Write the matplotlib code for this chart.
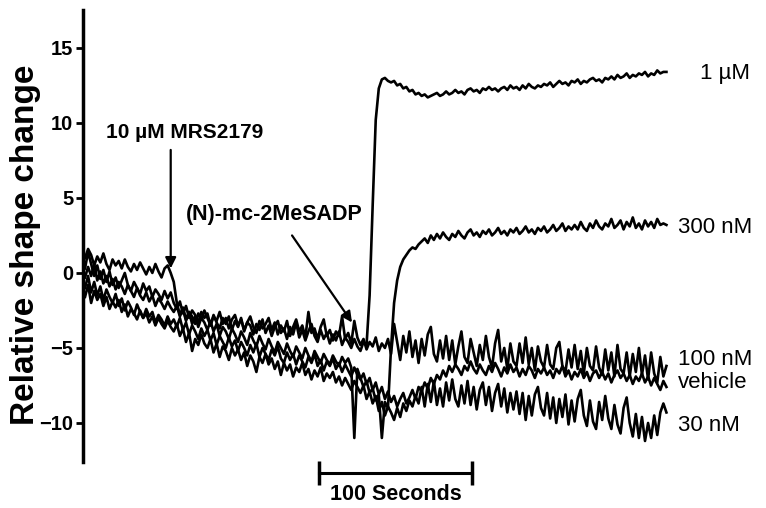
# platelet shape change traces
import numpy as np
import matplotlib
matplotlib.use('Agg')
import matplotlib.pyplot as plt

plt.rcParams['font.family'] = ['Liberation Sans', 'DejaVu Sans']

# sampling step, seconds (each row below = 20 s)
step = 2

one_uM = [-0.3, 0.4, -0.2, 0.6, -0.5, 0.1, -0.7, -0.2, -0.9, -0.4,
          -1.1, -0.6, -0.9, -1.4, -0.8, -1.2, -1.6, -1.0, -1.5, -1.8,
          -1.3, -1.9, -1.5, -2.2, -1.7, -2.0, -2.4, -1.9, -2.3, -2.6,
          -2.2, -2.9, -2.4, -3.2, -2.6, -2.9, -3.4, -2.7, -3.1, -2.5,
          -3.0, -3.5, -2.8, -3.3, -3.7, -3.0, -3.4, -2.9, -3.8, -3.2,
          -3.6, -3.0, -3.9, -3.3, -3.5, -4.1, -3.4, -3.8, -3.1, -4.0,
          -3.5, -4.2, -3.6, -3.2, -4.0, -3.7, -4.4, -3.6, -4.1, -3.3,
          -4.3, -3.8, -4.5, -3.9, -3.4, -4.2, -4.6, -3.8, -4.4, -4.0,
          -4.7, -4.1, -4.5, -3.9, -4.8, -4.3, -4.6, -5.0, -4.4, -4.9,
          -5.2, -4.6, -4.8, -1.5, 4.5, 10.2, 12.3, 12.9, 13.0, 12.8,
          12.7, 12.8, 12.5, 12.6, 12.3, 12.4, 12.1, 12.2, 11.9, 12.0,
          11.8, 11.9, 11.7, 11.8, 11.9, 12.0, 11.8, 11.9, 12.1, 11.9,
          12.0, 12.2, 12.0, 12.1, 11.9, 12.2, 12.3, 12.1, 12.2, 12.0,
          12.3, 12.2, 12.4, 12.2, 12.3, 12.1, 12.3, 12.4, 12.2, 12.5,
          12.3, 12.4, 12.2, 12.5, 12.3, 12.6, 12.4, 12.3, 12.5, 12.4,
          12.6, 12.5, 12.7, 12.4, 12.6, 12.8, 12.6, 12.7, 12.5, 12.8,
          12.7, 12.9, 12.6, 12.8, 12.7, 12.9, 13.0, 12.8, 12.9, 12.7,
          13.0, 12.9, 13.1, 12.9, 13.2, 13.0, 13.1, 13.3, 13.0, 13.2,
          13.1, 13.3, 13.2, 13.4, 13.1, 13.3, 13.2, 13.5, 13.3, 13.4,
          13.4]

nM_300 = [1.0, 1.6, 1.2, 0.5, 1.1, 0.7, 1.3, 0.6, 0.2, 0.9,
          0.5, 0.8, 0.3, 0.9, 0.4, 0.1, 0.6, 0.2, 0.7, 0.3,
          -0.1, 0.4, 0.0, 0.6, 0.1, -0.3, 0.3, 0.5, 0.0, -0.6,
          -2.0, -2.8, -2.3, -3.1, -2.6, -3.4, -2.9, -3.6, -3.0, -3.3,
          -3.8, -3.2, -3.9, -3.4, -4.2, -3.6, -3.9, -4.4, -3.7, -4.1,
          -4.6, -3.9, -4.3, -4.8, -4.0, -4.5, -4.9, -4.2, -4.7, -5.1,
          -4.4, -4.9, -5.3, -4.6, -5.0, -5.4, -4.7, -5.2, -5.6, -4.9,
          -5.3, -5.7, -5.0, -5.5, -5.9, -5.2, -5.6, -6.0, -5.4, -5.8,
          -6.1, -5.5, -5.9, -6.2, -5.6, -6.0, -5.7, -6.3, -11.0, -6.4,
          -7.0, -7.6, -7.2, -8.0, -7.7, -8.5, -8.1, -11.0, -8.6, -9.0,
          -5.0, -2.0, -0.5, 0.4, 0.9, 1.2, 1.5, 1.7, 1.6, 1.9,
          2.1, 2.3, 2.0, 2.5, 2.2, 2.6, 2.3, 2.7, 2.4, 2.2,
          2.6, 2.4, 2.8, 2.5, 2.3, 2.7, 2.9, 2.5, 2.7, 2.4,
          2.8, 2.6, 2.9, 2.5, 2.7, 3.0, 2.6, 2.8, 2.5, 2.9,
          2.7, 3.0, 2.6, 2.8, 3.1, 2.7, 2.9, 2.6, 3.0, 2.8,
          3.1, 2.7, 2.9, 3.2, 2.8, 3.0, 3.3, 2.8, 3.1, 2.9,
          3.2, 2.9, 3.4, 3.0, 2.8, 3.3, 3.0, 3.5, 3.1, 2.9,
          3.3, 3.1, 3.6, 3.0, 3.2, 3.5, 2.9, 3.4, 3.1, 3.7,
          3.0, 3.3, 2.9, 3.5, 3.1, 3.4, 3.0, 3.6, 3.2, 3.3,
          3.2]

nM_100 = [0.3, 1.4, 0.6, -0.2, 0.5, -0.4, 0.2, -0.6, 0.1, -0.8,
          -0.3, -1.0, -0.5, 0.0, -0.8, -1.2, -0.6, -1.0, -1.4, -0.7,
          -1.2, -0.9, -1.6, -1.1, -1.4, -1.8, -1.2, -1.7, -1.3, -2.0,
          -2.4, -1.9, -2.7, -2.2, -3.0, -2.5, -2.8, -3.3, -2.6, -3.0,
          -2.7, -3.5, -2.9, -3.2, -2.6, -3.4, -3.0, -3.7, -3.1, -2.8,
          -3.5, -3.1, -3.8, -3.3, -2.9, -3.6, -4.0, -3.2, -3.7, -3.4,
          -3.0, -3.8, -3.3, -4.1, -3.5, -3.9, -3.2, -4.2, -3.6, -3.1,
          -3.9, -3.5, -4.3, -2.6, -4.0, -3.7, -4.4, -3.6, -3.1, -4.2,
          -3.8, -4.5, -3.9, -4.2, -2.9, -4.4, -4.0, -4.7, -3.2, -4.3,
          -4.8, -4.4, -5.1, -4.6, -4.9, -4.3, -5.2, -4.7, -5.0, -4.4,
          -5.4, -3.4, -4.6, -5.8, -4.2, -5.3, -3.9, -5.6, -4.5, -6.0,
          -4.4, -5.5, -4.1, -3.6, -5.4, -5.9, -4.5, -5.7, -4.2, -5.8,
          -4.5, -6.1, -4.9, -3.9, -5.6, -6.0, -4.4, -5.3, -6.2, -4.8,
          -5.8, -4.2, -5.6, -6.3, -4.7, -3.8, -5.9, -5.0, -6.4, -4.7,
          -5.9, -6.2, -4.7, -6.0, -4.3, -6.1, -5.0, -6.5, -4.9, -5.9,
          -6.3, -4.8, -6.1, -6.4, -5.0, -4.6, -6.2, -6.6, -5.1, -6.3,
          -4.8, -6.4, -5.2, -6.7, -5.0, -6.2, -6.5, -4.9, -6.3, -6.8,
          -5.1, -6.5, -5.3, -6.9, -4.8, -6.4, -6.7, -5.3, -6.9, -5.4,
          -6.6, -5.0, -6.8, -5.5, -7.1, -5.3, -6.7, -7.3, -5.6, -6.9,
          -6.2]

vehicle = [-1.0, -0.2, -1.3, -0.6, -1.5, -0.9, -1.8, -1.1, -1.6, -2.0,
           -1.4, -2.2, -1.7, -2.5, -1.9, -2.3, -2.8, -2.1, -2.6, -3.0,
           -2.4, -2.9, -2.6, -3.3, -2.8, -3.1, -3.5, -2.9, -3.4, -3.1,
           -3.6, -3.0, -3.8, -3.3, -4.1, -3.5, -3.9, -4.4, -3.7, -4.2,
           -3.8, -4.5, -4.0, -4.8, -4.2, -4.6, -5.0, -4.3, -4.9, -4.5,
           -5.2, -4.6, -5.0, -5.5, -4.8, -5.3, -4.7, -5.6, -5.0, -5.4,
           -5.8, -5.1, -5.5, -4.9, -5.7, -6.0, -5.3, -5.8, -5.4, -6.1,
           -5.5, -5.9, -6.3, -5.6, -6.0, -5.4, -6.2, -5.8, -6.5, -5.9,
           -6.2, -5.7, -6.4, -6.0, -6.6, -6.1, -6.5, -6.9, -6.3, -6.8,
           -7.1, -6.7, -7.4, -7.0, -7.8, -7.3, -8.1, -7.6, -8.4, -7.9,
           -8.6, -8.2, -8.9, -8.4, -8.0, -8.7, -8.3, -7.8, -8.4, -7.6,
           -7.9, -7.3, -7.7, -7.0, -7.4, -6.8, -7.1, -6.5, -6.9, -6.2,
           -6.6, -6.1, -6.4, -6.8, -6.2, -6.5, -5.9, -6.4, -6.7, -6.1,
           -6.5, -6.8, -6.2, -6.6, -6.0, -6.4, -6.9, -6.3, -6.7, -6.1,
           -6.6, -6.3, -6.9, -6.4, -6.8, -6.2, -6.5, -7.0, -6.4, -6.7,
           -6.3, -6.8, -6.5, -7.0, -6.4, -6.7, -6.2, -6.9, -6.5, -7.1,
           -6.6, -6.9, -6.4, -7.0, -6.6, -7.2, -6.7, -6.5, -7.0, -6.6,
           -7.1, -6.7, -7.3, -6.8, -6.5, -7.0, -6.7, -7.2, -6.8, -7.4,
           -6.9, -7.2, -6.7, -7.3, -6.9, -7.5, -7.0, -7.4, -7.8, -7.2,
           -7.6]

nM_30 = [-1.6, -0.8, -2.0, -1.2, -1.8, -1.4, -2.2, -1.6, -2.4, -1.9,
         -2.3, -1.8, -2.6, -2.1, -2.9, -2.4, -2.7, -3.1, -2.5, -3.0,
         -2.7, -3.3, -2.9, -3.5, -3.0, -3.4, -3.7, -3.2, -3.6, -3.9,
         -3.4, -4.2, -3.7, -4.6, -4.0, -5.2, -4.4, -4.8, -4.1, -4.7,
         -5.0, -4.4, -5.3, -4.7, -5.6, -4.9, -5.2, -5.8, -5.0, -5.5,
         -5.1, -5.8, -5.3, -6.2, -5.5, -5.9, -6.6, -5.6, -6.0, -5.4,
         -6.1, -5.7, -6.4, -5.9, -6.8, -6.0, -6.5, -6.1, -6.9, -6.3,
         -6.6, -6.0, -6.8, -6.4, -7.1, -6.5, -6.9, -6.3, -7.2, -6.7,
         -7.0, -6.6, -7.3, -6.9, -7.5, -7.0, -7.4, -7.8, -7.2, -7.6,
         -8.0, -7.5, -8.4, -7.9, -8.7, -8.2, -9.2, -8.6, -9.5, -8.9,
         -9.3, -9.8, -9.0, -9.6, -8.7, -9.2, -8.5, -8.9, -8.2, -8.7,
         -7.6, -8.9, -7.4, -8.6, -7.2, -8.8, -7.7, -8.9, -7.3, -8.5,
         -7.1, -8.4, -8.9, -7.5, -8.7, -7.2, -8.8, -7.6, -9.1, -7.8,
         -7.3, -8.8, -7.6, -9.2, -8.0, -7.4, -8.9, -7.7, -9.3, -8.0,
         -9.1, -7.9, -9.4, -8.0, -9.8, -8.2, -9.5, -8.1, -7.6, -9.0,
         -9.5, -8.0, -9.7, -8.3, -10.0, -8.4, -9.6, -8.1, -10.1, -8.5,
         -9.9, -8.4, -7.8, -9.5, -10.2, -8.5, -9.9, -10.4, -8.6, -9.8,
         -8.2, -9.7, -10.4, -8.8, -10.1, -10.7, -9.0, -8.3, -10.0, -10.9,
         -9.4, -11.0, -9.6, -11.2, -10.0, -11.0, -9.5, -10.8, -9.3, -8.7,
         -9.3]

traces = [one_uM, nM_300, nM_100, vehicle, nM_30]
names = ['1 µM', '300 nM', '100 nM', 'vehicle', '30 nM']
label_y = [13.3, 3.0, -5.8, -7.3, -10.2]

# injections (s) and scale bar
mrs_time = 56
agonist_time = 174.5
scalebar_start = 153
scalebar_len = 100

fig = plt.figure(figsize=(7.66, 5.08), dpi=100)
ax = fig.add_axes([0.1084, 0.0906, 0.7794, 0.8898])

for tr in traces:
    t = step * np.arange(len(tr))
    ax.plot(t, tr, color='black', lw=1.9)

ax.set_xlim(-1.3, 388.9)
ax.set_ylim(-12.6, 17.53)
ax.set_yticks([-10, -5, 0, 5, 10, 15])
ax.set_xticks([])
for s in ['top', 'right', 'bottom']:
    ax.spines[s].set_visible(False)
ax.spines['left'].set_linewidth(2.5)
ax.tick_params(axis='y', length=5, width=2, labelsize=14.5, pad=2)
for lb in ax.get_yticklabels():
    lb.set_fontweight('bold')

fig.text(26 / 766, 1 - 245 / 508, 'Relative shape change', rotation=90,
         ha='center', va='center', fontsize=24, fontweight='bold')

# trace labels on the right
for name, y in zip(names, label_y):
    x = 402 if name == '1 µM' else 387.5
    ax.text(x, y, name, fontsize=16, ha='left', va='center', clip_on=False)

# arrows
arr = dict(arrowstyle='-|>', color='black', lw=1.6, mutation_scale=16, shrinkA=0, shrinkB=0)
ax.annotate('', xy=(mrs_time, 0.3), xytext=(mrs_time, 8.2), arrowprops=arr)
ax.text(65, 9.33, '10 µM MRS2179', ha='center', va='center', fontsize=15, fontweight='bold')
ax.annotate('', xy=(agonist_time, -3.3), xytext=(135.3, 2.5), arrowprops=arr)
ax.text(123.5, 3.87, '(N)-mc-2MeSADP', ha='center', va='center', fontsize=15.5, fontweight='bold')

# scale bar
sb_y = -13.33
ax.plot([scalebar_start, scalebar_start + scalebar_len], [sb_y, sb_y], color='black', lw=2.2,
        clip_on=False)
ax.plot([scalebar_start, scalebar_start + scalebar_len], [sb_y, sb_y], ls='none', marker='|',
        ms=17, mew=2.5, color='black', clip_on=False)
ax.text(scalebar_start + scalebar_len / 2, -14.8, '100 Seconds', ha='center', va='center',
        fontsize=15.5, fontweight='bold', clip_on=False)

fig.savefig('out.png', dpi=100)
